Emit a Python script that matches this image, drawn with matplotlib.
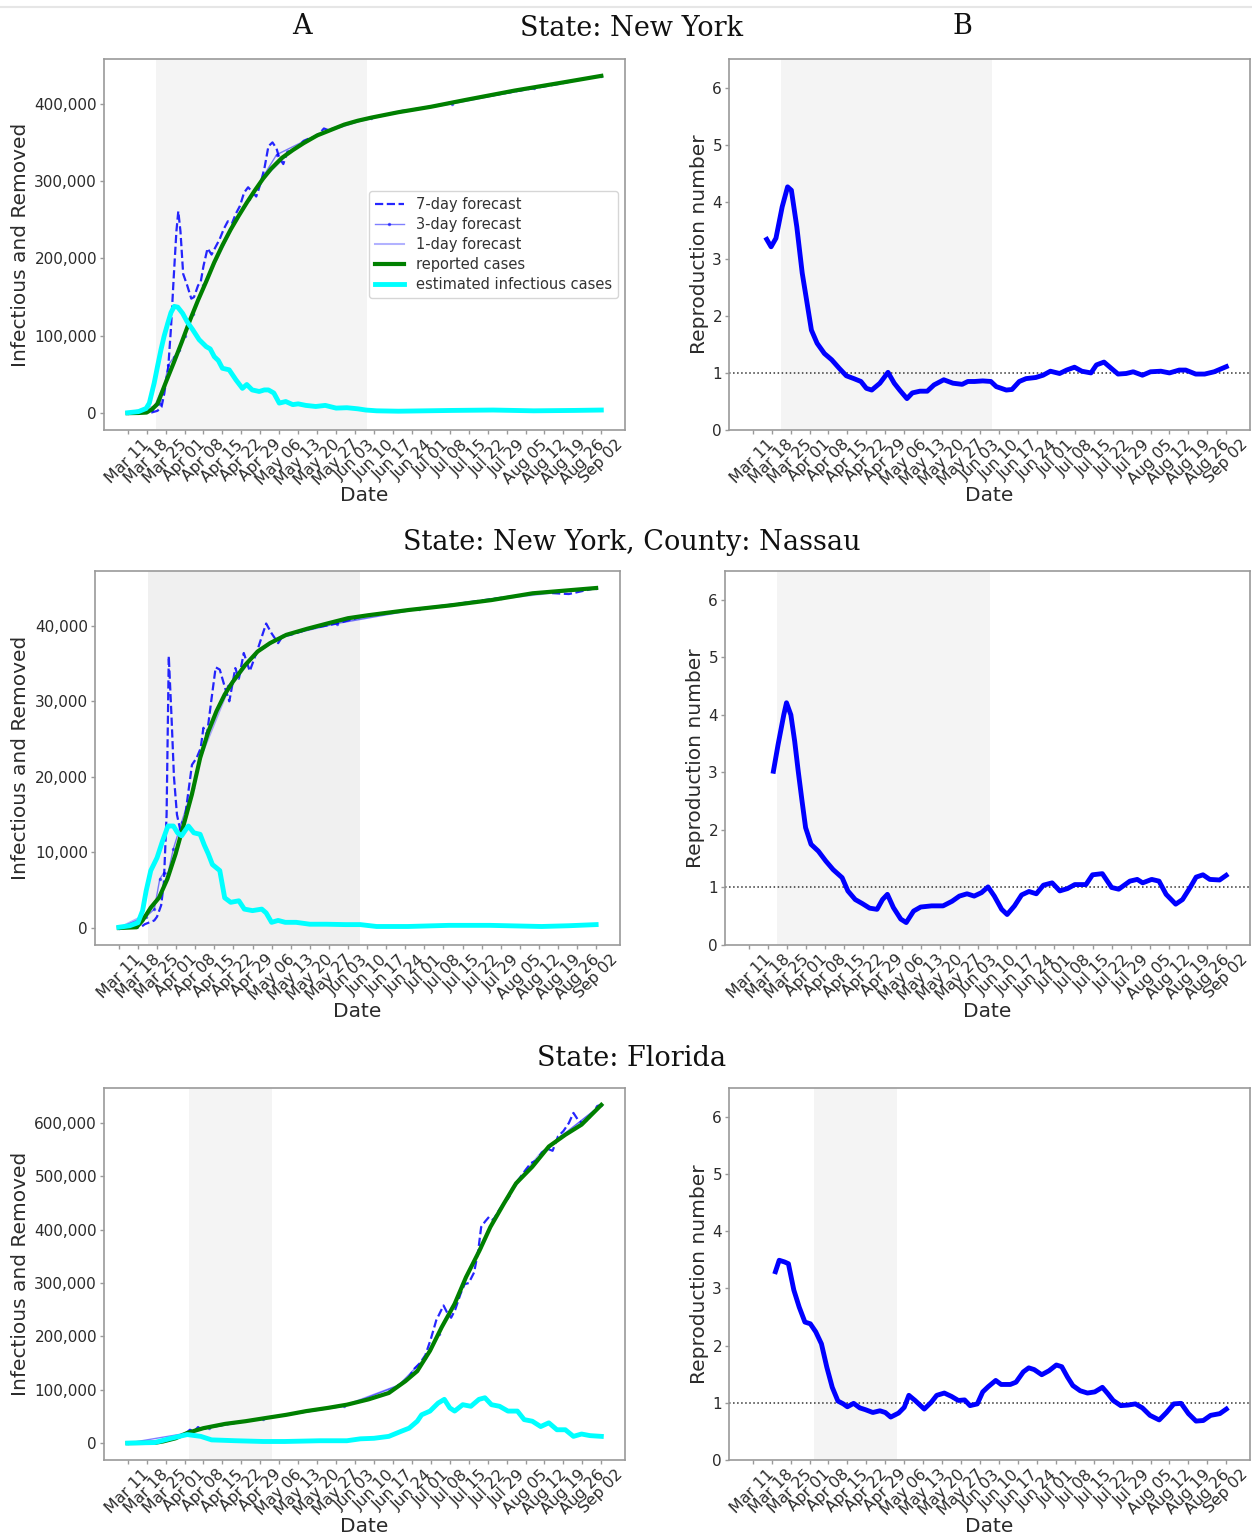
import numpy as np
import matplotlib
matplotlib.use("Agg")
import matplotlib.pyplot as plt
from matplotlib.ticker import FuncFormatter
from matplotlib.lines import Line2D

plt.rcParams['font.family'] = 'DejaVu Sans'

## x axis: day 0 = Mar 11, weekly ticks
tick_labels = ["Mar 11", "Mar 18", "Mar 25", "Apr 01", "Apr 08", "Apr 15", "Apr 22",
               "Apr 29", "May 06", "May 13", "May 20", "May 27", "Jun 03", "Jun 10",
               "Jun 17", "Jun 24", "Jul 01", "Jul 08", "Jul 15", "Jul 22", "Jul 29",
               "Aug 05", "Aug 12", "Aug 19", "Aug 26", "Sep 02"]

## stay-at-home periods (days after Mar 11)
ny_lock = [10.5, 88.3]
nassau_lock = [10.5, 88.5]
fl_lock = [22.5, 53.5]

## ---------------- New York (values in thousands) ----------------
ny_rep_d = [0, 4, 7, 9, 11, 14, 17, 20, 23, 26, 29, 32, 35, 38, 41, 44, 47, 50, 53, 57,
            61, 65, 70, 75, 80, 85, 90, 100, 112, 125, 143, 160, 175]
ny_rep = [0, 0.2, 0.8, 5, 12, 39, 65, 92, 120, 146, 170, 195, 217, 237, 255, 272, 288, 303,
          316, 330, 340, 349, 359, 366, 373, 378, 382, 389, 396, 405, 417, 427, 436]

ny_f7_d = [0, 5, 9, 11, 12.5, 13.5, 15, 16, 17, 18, 18.7, 19.5, 20.5, 22, 23.5, 24.5, 26, 27,
           28, 29.5, 31, 32.5, 34, 35.5, 37, 38.5, 40, 41.5, 43, 44.5, 46, 47.5, 49, 50.5,
           52, 53.5, 55, 56, 57.5, 59, 61, 63, 65, 67, 69, 71, 72.5, 74, 76, 80, 85, 90,
           95, 100, 110, 120, 130, 140, 150, 160, 167, 175]
ny_f7 = [0, 0.2, 1, 3, 8, 25, 60, 110, 175, 235, 261, 235, 180, 165, 148, 150, 165, 170,
         190, 213, 205, 215, 225, 238, 248, 245, 258, 268, 285, 292, 286, 280, 296, 316,
         345, 350, 342, 330, 322, 338, 340, 345, 352, 355, 357, 362, 368, 366, 368, 373,
         378, 382, 385, 390, 395, 402, 408, 414, 420, 426, 431, 436]

ny_f3_d = [0, 9, 12, 13.5, 15, 17, 19, 21, 24, 28, 35, 45, 55, 70, 90, 120, 150, 175]
ny_f3 = [0, 4, 12, 35, 62, 72, 82, 100, 128, 165, 218, 277, 334, 360, 382, 400, 420, 436]

ny_f1_d = [0, 10, 15, 20, 25, 30, 40, 50, 60, 70, 80, 100, 130, 175]
ny_f1 = [0, 9, 48, 92, 137, 178, 250, 303, 338, 359, 373, 389, 408, 436]

ny_inf_d = [0, 4, 6.8, 8, 9.8, 11, 12.3, 13.5, 14.8, 16, 17.2, 18.5, 20.3, 22, 24, 26.4, 29,
            30.5, 32, 33.5, 35, 37.5, 40, 42.4, 44, 46, 48.6, 50.5, 52, 54, 56, 58.4, 61,
            63, 65.8, 69.5, 73, 77, 81, 85, 88, 92, 100, 110, 120, 135, 150, 165, 175]
ny_inf = [0.5, 2, 6, 13, 39, 60, 82, 100, 116, 130, 138, 137, 129, 118, 108, 95, 86, 83,
          73, 68, 58, 56, 43, 32, 37, 30, 28, 30, 30, 26, 13, 15, 11, 12, 10, 8.6, 10, 6.5,
          7, 5.6, 4, 3, 2.5, 3, 3.5, 4, 3, 3.5, 4]

ny_r_d = [5.2, 6.8, 8.6, 10.9, 12.9, 14.3, 16.3, 18.3, 19.7, 21.7, 23.8, 26.5, 29.2, 32,
          34.6, 37.4, 40, 42, 44, 47, 50, 52.3, 54.3, 57, 59, 61.8, 64.5, 67, 70.6, 74,
          77.4, 79.5, 82, 85, 88, 90, 93.7, 95.8, 98.5, 101, 104.6, 107.3, 110, 113.4, 116,
          118.9, 121.6, 125, 127, 129.8, 132.5, 135, 138, 140.6, 144, 147, 150.8, 154,
          157.6, 160, 163.7, 167, 170.5, 175]
ny_r = [3.34, 3.21, 3.36, 3.91, 4.26, 4.2, 3.56, 2.75, 2.34, 1.75, 1.52, 1.34, 1.23, 1.08,
        0.95, 0.9, 0.85, 0.73, 0.70, 0.82, 1.01, 0.82, 0.70, 0.55, 0.65, 0.68, 0.68, 0.79,
        0.88, 0.82, 0.8, 0.85, 0.85, 0.86, 0.85, 0.76, 0.70, 0.71, 0.85, 0.9, 0.92, 0.96,
        1.03, 0.99, 1.05, 1.1, 1.03, 1.0, 1.14, 1.19, 1.08, 0.98, 0.99, 1.02, 0.96, 1.02,
        1.03, 1.0, 1.05, 1.05, 0.98, 0.98, 1.02, 1.11]

## ---------------- Nassau county (thousands) ----------------
na_rep_d = [0, 6.5, 8.7, 11.7, 14.7, 17.8, 20.8, 23.8, 26.8, 29.8, 32.8, 35.8, 38.8, 41.8,
            46.3, 50.9, 55.4, 61.4, 69, 76.4, 84, 91.5, 106.5, 121.6, 136.6, 151.7, 175]
na_rep = [0, 0.1, 1, 2.7, 4, 6.5, 9.8, 13.7, 17.7, 22.5, 26, 28.7, 30.9, 32.6, 34.8, 36.6,
          37.7, 38.8, 39.6, 40.3, 41, 41.4, 42.1, 42.7, 43.4, 44.3, 45]

na_f7_d = [0, 8, 9.5, 13, 14, 15.5, 16.5, 17.5, 18.3, 19.3, 20.2, 21.3, 22.5, 24, 26.8, 28.5,
           30, 31, 32.3, 34, 35.5, 37, 39, 40.5, 42.7, 44, 45.8, 48, 51, 54, 56, 58.4, 60,
           63, 70, 80, 90, 100, 120, 140, 155, 165, 175]
na_f7 = [0, 0.1, 0.5, 1, 1.5, 3, 6, 15, 36, 28, 20, 15, 13, 14, 21.6, 22.5, 23.8, 26.5, 25.6,
         30.4, 34.5, 34.2, 31.7, 30, 34.4, 33, 36.4, 34, 37, 40.3, 39, 37.7, 38.6, 38.8,
         39.6, 40.3, 41.3, 41.8, 42.7, 43.7, 44.4, 44.2, 45]

na_f3_d = [0, 10, 13, 15, 16.5, 18, 20, 23, 27, 32, 40, 50, 60, 80, 110, 140, 175]
na_f3 = [0, 1.5, 2.5, 6.5, 7.3, 7.2, 10.5, 14, 18.5, 25.5, 32, 36.3, 38.6, 40.3, 42.2, 43.7, 45]

na_f1_d = [0, 10, 15, 20, 25, 30, 40, 50, 60, 80, 110, 140, 175]
na_f1 = [0, 1.8, 4.3, 9, 15, 22.6, 31.5, 36.3, 38.7, 40.5, 42.3, 43.6, 45]

na_inf_d = [0, 4, 7, 8.7, 10, 11.7, 14, 16, 18, 20, 21.5, 23, 24.5, 25.5, 27.5, 29.8, 31.3,
            32.8, 34.3, 37, 38.8, 41, 44, 46, 49, 52.4, 54, 56, 58.4, 61, 65, 70, 76, 83,
            88.5, 94.5, 106, 121, 136, 155, 165, 175]
na_inf = [0.1, 0.3, 0.7, 2.3, 4.9, 7.6, 9.3, 11.5, 13.5, 13.5, 12.6, 12.2, 13, 13.5, 12.6,
          12.4, 11, 9.8, 8.4, 7.6, 4, 3.4, 3.6, 2.5, 2.3, 2.5, 2, 0.75, 1, 0.75, 0.75, 0.5,
          0.5, 0.45, 0.45, 0.2, 0.2, 0.35, 0.35, 0.2, 0.3, 0.45]

na_r_d = [9, 10.7, 12.8, 13.8, 15.4, 16.8, 18.1, 19.5, 20.8, 22.8, 25.5, 28.2, 30.9, 34.2,
          36.3, 39, 41.6, 44.3, 47, 49, 50.8, 53, 55.7, 57.7, 60.4, 63, 67, 71.2, 74.5, 77.2,
          80, 82.6, 85.3, 87.7, 90, 92.7, 94.7, 97.4, 100, 102.7, 105.4, 108, 111.2, 114,
          116.8, 119.5, 123.6, 126, 129.6, 133, 135.6, 139.7, 142.4, 144.4, 147.7, 150.4,
          153, 156.5, 159, 161.8, 164, 166.5, 169, 172.6, 175]
na_r = [3.02, 3.48, 4.0, 4.21, 4.0, 3.54, 3.02, 2.5, 2.04, 1.75, 1.63, 1.46, 1.31, 1.17, 0.94,
        0.79, 0.72, 0.64, 0.62, 0.79, 0.88, 0.65, 0.45, 0.39, 0.59, 0.66, 0.68, 0.68, 0.76,
        0.85, 0.89, 0.85, 0.91, 1.01, 0.85, 0.62, 0.53, 0.68, 0.87, 0.93, 0.89, 1.04, 1.08,
        0.94, 0.98, 1.05, 1.05, 1.22, 1.24, 1.0, 0.97, 1.11, 1.14, 1.08, 1.14, 1.11, 0.88,
        0.71, 0.79, 1.0, 1.18, 1.22, 1.14, 1.13, 1.21]

## ---------------- Florida (thousands) ----------------
fl_rep_d = [0, 10, 13, 17.7, 22, 28, 36, 43.5, 51, 58.6, 66, 74, 81, 89, 96.5, 102.6, 107,
            111.7, 116, 120.8, 125, 130, 134, 139, 143.5, 149.5, 155.6, 161.7, 167.7, 175]
fl_rep = [0, 0.5, 3, 9, 19, 28, 36, 41, 47, 53, 60, 66, 72, 82, 94, 116, 135, 173, 217, 261,
          311, 361, 405, 449, 487, 518, 556, 578, 597, 634]

fl_f7_d = [0, 10, 17, 21, 23, 24.5, 26, 27.5, 29, 32, 40, 50, 60, 70, 80, 88, 94, 99, 103,
           106, 108, 110, 112, 114, 116.7, 118, 119.5, 121, 123, 124.5, 126, 128, 129.5,
           130.6, 132, 133.5, 135, 137, 139, 141, 143, 145, 147, 149, 151, 153, 155, 157,
           159, 161, 163, 164.7, 166.5, 168, 170, 172, 173.5, 175]
fl_f7 = [0, 0.5, 8, 16, 25, 22, 30, 25, 28, 31, 38, 46, 54, 63, 71, 80, 90, 103, 117, 140,
         150, 165, 195, 230, 258, 245, 235, 250, 280, 298, 300, 320, 360, 405, 415, 424, 418,
         435, 450, 462, 485, 498, 512, 525, 530, 545, 552, 548, 575, 585, 600, 619, 605, 600,
         606, 620, 632, 634]

fl_f3_d = [0, 20, 25, 30, 50, 80, 100, 110, 115, 120, 130, 140, 150, 160, 175]
fl_f3 = [0, 17, 24, 29, 46, 69, 108, 160, 205, 255, 365, 460, 525, 575, 634]

fl_f1_d = [0, 15, 22, 30, 50, 80, 100, 108, 114, 122, 132, 142, 152, 162, 175]
fl_f1 = [0, 6, 19, 30, 46, 70, 108, 142, 198, 275, 385, 478, 540, 580, 634]

fl_inf_d = [0, 10, 16, 22, 27, 31, 40, 50, 58, 71, 81, 86, 91, 96.5, 101, 104, 107, 108.6,
            111.7, 114.7, 117, 119, 120.8, 123.8, 126.8, 129.8, 132, 134.4, 137.4, 140.5,
            144, 146.5, 149.5, 152.6, 155.6, 158.6, 161.7, 164.7, 167.7, 170.8, 175]
fl_inf = [0, 1, 9, 16, 12.6, 6, 4.4, 3, 3, 4.4, 4.4, 8, 9, 12.6, 22, 28, 41, 53, 60, 75, 82,
          66, 60, 72, 69, 82, 85, 72, 69, 60, 60, 44, 41, 31, 38, 25, 25, 12.6, 17, 14, 12.6]

fl_r_d = [8.4, 9.8, 11.8, 13.2, 15.2, 17.2, 19.3, 21.3, 23.3, 25.4, 27.4, 29.4, 31.5, 33.5,
          35, 37.3, 39.6, 41.6, 44.4, 47, 49, 51, 53.9, 56, 57.7, 60, 63.4, 66, 68, 70.8,
          73.5, 76, 78.3, 80.3, 83, 85, 87, 89.8, 91.8, 95.2, 97.3, 100, 102, 104, 106.8,
          109.5, 112.2, 114.2, 116.3, 118.3, 121, 123.7, 126.4, 129.2, 131.2, 133.2, 136,
          138.7, 141.4, 144, 146.8, 150.2, 152.9, 155.6, 158.3, 161, 163.8, 166.5, 169.2,
          172.6, 175]
fl_r = [3.29, 3.49, 3.46, 3.43, 2.97, 2.67, 2.41, 2.38, 2.24, 2.03, 1.62, 1.27, 1.03, 0.98,
        0.93, 0.99, 0.91, 0.88, 0.83, 0.86, 0.83, 0.75, 0.82, 0.92, 1.13, 1.04, 0.89, 1.01,
        1.13, 1.17, 1.11, 1.04, 1.05, 0.95, 0.98, 1.19, 1.28, 1.39, 1.32, 1.32, 1.36, 1.54,
        1.61, 1.58, 1.49, 1.56, 1.66, 1.63, 1.45, 1.3, 1.21, 1.17, 1.19, 1.27, 1.16, 1.04,
        0.95, 0.96, 0.98, 0.91, 0.78, 0.70, 0.83, 0.98, 0.99, 0.81, 0.68, 0.69, 0.78, 0.81,
        0.89]

SPINE = '#9a9a9a'
TXT = '#2b2b2b'
SHADE = '#f4f4f4'
tick_pos = np.arange(len(tick_labels)) * 7


def style_axes(ax):
    for s in ax.spines.values():
        s.set_color(SPINE)
        s.set_linewidth(1.2)
    ax.tick_params(colors=SPINE, labelcolor=TXT, length=3, width=1, pad=2, labelsize=11)
    ax.set_xticks(tick_pos)
    ax.set_xticklabels(tick_labels, rotation=45, ha='center', fontsize=11.3)
    ax.set_xlim(-8.75, 183.75)
    ax.set_xlabel('Date', fontsize=14.5, color=TXT)
    ax.xaxis.set_label_coords(0.5, -0.152)


def cases_panel(ax, lock, f7d, f7, f3d, f3, f1d, f1, repd, rep, infd, inf, yticks, ylx, shade=SHADE):
    ax.axvspan(lock[0], lock[1], color=shade, lw=0, zorder=0)
    ax.plot(f7d, np.array(f7) * 1000, '--', color='blue', lw=1.6, alpha=0.85, label='7-day forecast')
    ax.plot(f3d, np.array(f3) * 1000, '-', marker='.', ms=3, color='blue', lw=1, alpha=0.5,
            label='3-day forecast')
    ax.plot(f1d, np.array(f1) * 1000, '-', color='blue', lw=1.5, alpha=0.3, label='1-day forecast')
    ax.plot(repd, np.array(rep) * 1000, '-', color='green', lw=3, label='reported cases')
    ax.plot(infd, np.array(inf) * 1000, '-', color='cyan', lw=3.5, label='estimated infectious cases')
    style_axes(ax)
    ax.set_yticks(yticks)
    ax.yaxis.set_major_formatter(FuncFormatter(lambda v, p: '{:,.0f}'.format(v)))
    ax.set_ylabel('Infectious and Removed', fontsize=14.5, color=TXT)
    ax.yaxis.set_label_coords(ylx, 0.5)


def r_panel(ax, lock, rd, r, ylx):
    ax.axvspan(lock[0], lock[1], color=SHADE, lw=0, zorder=0)
    ax.axhline(1, color='#333333', ls=':', lw=1.1)
    ax.plot(rd, r, '-', color='blue', lw=3.5, solid_joinstyle='round')
    style_axes(ax)
    ax.set_ylim(0, 6.5)
    ax.set_yticks(range(7))
    ax.set_ylabel('Reproduction number', fontsize=14.5, color=TXT)
    ax.yaxis.set_label_coords(ylx, 0.5)


W, H = 1252.0, 1535.0
fig = plt.figure(figsize=(W / 100, H / 100), dpi=100)


def box(x0, x1, y0, y1):
    return [x0 / W, 1 - y1 / H, (x1 - x0) / W, (y1 - y0) / H]


ax1 = fig.add_axes(box(104, 625, 59, 430))
ax2 = fig.add_axes(box(729, 1250, 59, 430))
ax3 = fig.add_axes(box(95, 620, 571, 945))
ax4 = fig.add_axes(box(725, 1250, 571, 945))
ax5 = fig.add_axes(box(104, 625, 1088, 1460))
ax6 = fig.add_axes(box(729, 1250, 1088, 1460))

cases_panel(ax1, ny_lock, ny_f7_d, ny_f7, ny_f3_d, ny_f3, ny_f1_d, ny_f1, ny_rep_d, ny_rep,
            ny_inf_d, ny_inf, [0, 100000, 200000, 300000, 400000], -0.142)
leg = ax1.legend(loc='center right', fontsize=10.5, labelspacing=0.35, labelcolor='#333333',
                 borderpad=0.4)
r_panel(ax2, ny_lock, ny_r_d, ny_r, -0.038)

cases_panel(ax3, nassau_lock, na_f7_d, na_f7, na_f3_d, na_f3, na_f1_d, na_f1, na_rep_d, na_rep,
            na_inf_d, na_inf, [0, 10000, 20000, 30000, 40000], -0.124, shade='#f0f0f0')
r_panel(ax4, nassau_lock, na_r_d, na_r, -0.038)

cases_panel(ax5, fl_lock, fl_f7_d, fl_f7, fl_f3_d, fl_f3, fl_f1_d, fl_f1, fl_rep_d, fl_rep,
            fl_inf_d, fl_inf, [0, 100000, 200000, 300000, 400000, 500000, 600000], -0.142)
r_panel(ax6, fl_lock, fl_r_d, fl_r, -0.038)

## titles
serif = dict(family='DejaVu Serif', fontsize=19.5, color='#111111', ha='center', va='center')
fig.text(302 / W, 1 - 26 / H, 'A', **serif)
fig.text(962 / W, 1 - 27 / H, 'B', **serif)
fig.text(632 / W, 1 - 29 / H, 'State: New York', **serif)
fig.text(632 / W, 1 - 542 / H, 'State: New York, County: Nassau', **serif)
fig.text(632 / W, 1 - 1058 / H, 'State: Florida', **serif)
fig.add_artist(Line2D([0, 1], [1 - 7 / H, 1 - 7 / H], color='#e6e6e6', lw=1.5))

fig.savefig('out.png', dpi=100)
